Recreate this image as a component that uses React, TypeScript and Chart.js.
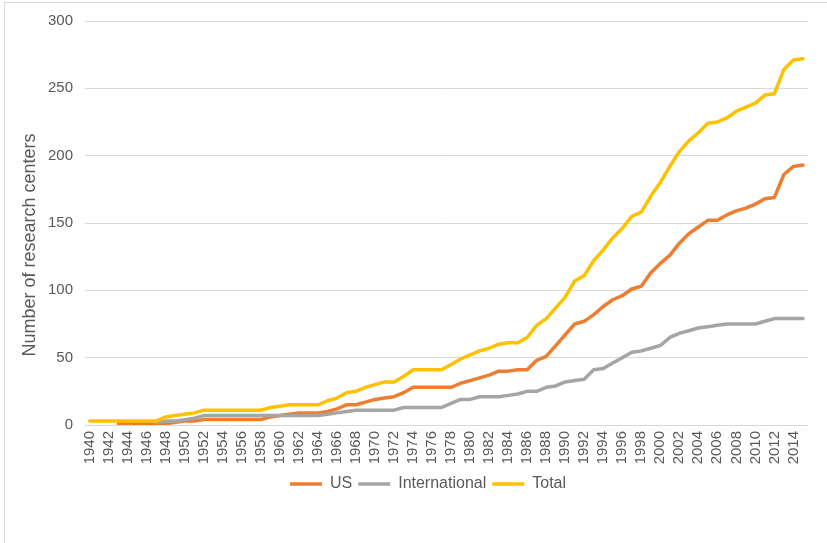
import React, { useEffect, useRef } from "react";
import { Chart, registerables } from "chart.js";

Chart.register(...registerables);

// Years 1940–2015
const years: string[] = [];
for (let y = 1940; y <= 2015; y++) years.push(String(y));

const usCenters: (number | null)[] = [
  null, null, null, 1, 1, 1, 1, 1, 1, 2,
  3, 3, 4, 4, 4, 4, 4, 4, 4, 6,
  7, 8, 9, 9, 9, 10, 12, 15, 15, 17,
  19, 20, 21, 24, 28, 28, 28, 28, 28, 31,
  33, 35, 37, 40, 40, 41, 41, 48, 51, 59,
  67, 75, 77, 82, 88, 93, 96, 101, 103, 113,
  120, 126, 135, 142, 147, 152, 152, 156, 159, 161,
  164, 168, 169, 186, 192, 193,
];

const internationalCenters: (number | null)[] = [
  null, null, null, null, null, null, null, 2, 3, 3,
  4, 5, 7, 7, 7, 7, 7, 7, 7, 7,
  7, 7, 7, 7, 7, 8, 9, 10, 11, 11,
  11, 11, 11, 13, 13, 13, 13, 13, 16, 19,
  19, 21, 21, 21, 22, 23, 25, 25, 28, 29,
  32, 33, 34, 41, 42, 46, 50, 54, 55, 57,
  59, 65, 68, 70, 72, 73, 74, 75, 75, 75,
  75, 77, 79, 79, 79, 79,
];

const totalCenters: number[] = [
  3, 3, 3, 3, 3, 3, 3, 3, 6, 7,
  8, 9, 11, 11, 11, 11, 11, 11, 11, 13,
  14, 15, 15, 15, 15, 18, 20, 24, 25, 28,
  30, 32, 32, 36, 41, 41, 41, 41, 45, 49,
  52, 55, 57, 60, 61, 61, 65, 74, 79, 87,
  95, 107, 111, 122, 130, 139, 146, 155, 158, 170,
  180, 192, 203, 211, 217, 224, 225, 228, 233, 236,
  239, 245, 246, 264, 271, 272,
];

const seriesNames = ["US", "International", "Total"];
const seriesColors = ["#ED7D31", "#A5A5A5", "#FFC000"];
const yAxisTitle = "Number of research centers";

const FONT = "'Liberation Sans', Arial, sans-serif";
const TEXT = "#595959";
const GRID = "#D9D9D9";

// Vertical axis title, drawn beside the value labels
const axisTitlePlugin = {
  id: "axisTitle",
  afterDraw(chart: Chart) {
    const { ctx } = chart;
    ctx.save();
    ctx.font = `18px ${FONT}`;
    ctx.fillStyle = TEXT;
    ctx.textAlign = "center";
    ctx.textBaseline = "middle";
    ctx.translate(30, 245);
    ctx.rotate(-Math.PI / 2);
    ctx.fillText(yAxisTitle, 0, 0);
    ctx.restore();
  },
};

// Nudge the legend row a little to the right of the canvas centre
const legendShiftPlugin = {
  id: "legendShift",
  afterLayout(chart: Chart) {
    const lg = chart.legend as any;
    if (!lg) return;
    lg.left += 20;
    lg.right += 20;
  },
};

export default function App() {
  const canvasRef = useRef<HTMLCanvasElement | null>(null);

  useEffect(() => {
    if (!canvasRef.current) return;
    const seriesData = [usCenters, internationalCenters, totalCenters];
    const drawOrder = [2, 1, 0];
    const chart = new Chart(canvasRef.current, {
      type: "line",
      data: {
        labels: years,
        datasets: seriesNames.map((name, i) => ({
          label: name,
          data: seriesData[i],
          borderColor: seriesColors[i],
          backgroundColor: seriesColors[i],
          borderWidth: 3.5,
          pointRadius: 0,
          tension: 0,
          borderCapStyle: "round" as const,
          borderJoinStyle: "round" as const,
          order: drawOrder[i],
        })),
      },
      plugins: [axisTitlePlugin, legendShiftPlugin],
      options: {
        animation: false,
        responsive: false,
        maintainAspectRatio: false,
        layout: { padding: { top: 16, right: 11, bottom: 41, left: 0 } },
        plugins: {
          tooltip: { enabled: false },
          legend: {
            position: "bottom",
            labels: {
              usePointStyle: true,
              pointStyle: "line",
              pointStyleWidth: 32,
              padding: 6,
              color: TEXT,
              font: { family: FONT, size: 16 },
              sort: (a, b) => (a.datasetIndex ?? 0) - (b.datasetIndex ?? 0),
            },
          },
        },
        scales: {
          x: {
            offset: true,
            grid: { display: false, drawTicks: false },
            border: { display: true, color: GRID, width: 1 },
            ticks: {
              autoSkip: false,
              minRotation: 90,
              maxRotation: 90,
              padding: 6,
              color: TEXT,
              font: { family: FONT, size: 15 },
              callback: (_v, idx) => (idx % 2 === 0 ? years[idx] : ""),
            },
            afterFit: (s) => {
              s.height = 45;
            },
          },
          y: {
            min: 0,
            max: 300,
            grid: { color: GRID, lineWidth: 1, drawTicks: false },
            border: { display: false },
            ticks: {
              stepSize: 50,
              padding: 12,
              color: TEXT,
              font: { family: FONT, size: 15 },
            },
            afterFit: (s) => {
              s.width = 85;
            },
          },
        },
      },
    });
    return () => chart.destroy();
  }, []);

  return (
    <div
      style={{
        position: "fixed",
        left: 0,
        top: 0,
        width: 827,
        height: 543,
        overflow: "hidden",
        background: "#ffffff",
      }}
    >
      <div
        style={{
          position: "absolute",
          left: 4,
          top: 2,
          width: 840,
          height: 560,
          borderLeft: `1px solid ${GRID}`,
          borderTop: `1px solid ${GRID}`,
        }}
      />
      <canvas
        ref={canvasRef}
        width={827}
        height={543}
        style={{ position: "absolute", left: 0, top: 0, width: 827, height: 543 }}
      />
    </div>
  );
}
